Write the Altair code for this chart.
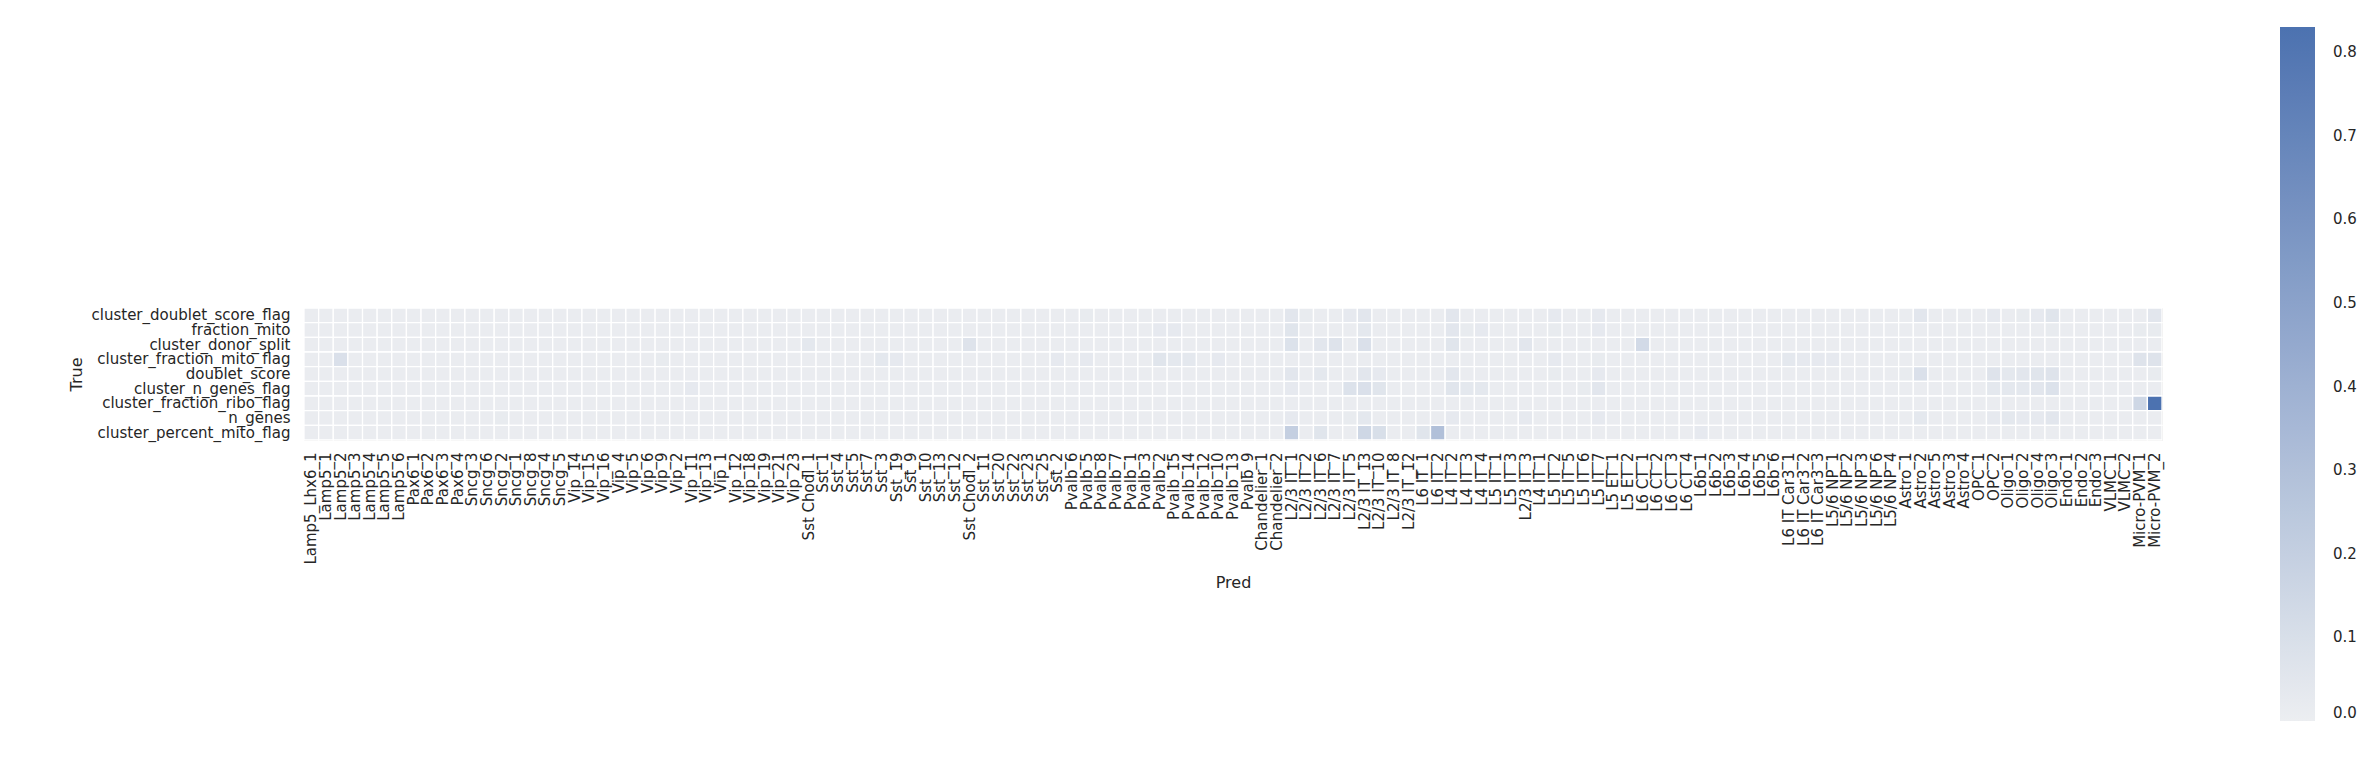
import altair as alt
import pandas as pd

true_labels = [
    "cluster_doublet_score_flag", "fraction_mito", "cluster_donor_split",
    "cluster_fraction_mito_flag", "doublet_score", "cluster_n_genes_flag",
    "cluster_fraction_ribo_flag", "n_genes", "cluster_percent_mito_flag",
]

pred_labels = [
    "Lamp5_Lhx6_1", "Lamp5_1", "Lamp5_2", "Lamp5_3", "Lamp5_4", "Lamp5_5", "Lamp5_6",
    "Pax6_1", "Pax6_2", "Pax6_3", "Pax6_4",
    "Sncg_3", "Sncg_6", "Sncg_2", "Sncg_1", "Sncg_8", "Sncg_4", "Sncg_5",
    "Vip_14", "Vip_15", "Vip_16", "Vip_4", "Vip_5", "Vip_6", "Vip_9", "Vip_2", "Vip_11",
    "Vip_13", "Vip_1", "Vip_12", "Vip_18", "Vip_19", "Vip_21", "Vip_23",
    "Sst Chodl_1", "Sst_1", "Sst_4", "Sst_5", "Sst_7", "Sst_3", "Sst_19", "Sst_9", "Sst_10",
    "Sst_13", "Sst_12", "Sst Chodl_2", "Sst_11", "Sst_20", "Sst_22", "Sst_23", "Sst_25", "Sst_2",
    "Pvalb_6", "Pvalb_5", "Pvalb_8", "Pvalb_7", "Pvalb_1", "Pvalb_3", "Pvalb_2", "Pvalb_15",
    "Pvalb_14", "Pvalb_12", "Pvalb_10", "Pvalb_13", "Pvalb_9",
    "Chandelier_1", "Chandelier_2",
    "L2/3 IT_1", "L2/3 IT_2", "L2/3 IT_6", "L2/3 IT_7", "L2/3 IT_5", "L2/3 IT_13",
    "L2/3 IT_10", "L2/3 IT_8", "L2/3 IT_12",
    "L6 IT_1", "L6 IT_2", "L4 IT_2", "L4 IT_3", "L4 IT_4", "L5 IT_1", "L5 IT_3",
    "L2/3 IT_3", "L4 IT_1", "L5 IT_2", "L5 IT_5", "L5 IT_6", "L5 IT_7",
    "L5 ET_1", "L5 ET_2", "L6 CT_1", "L6 CT_2", "L6 CT_3", "L6 CT_4",
    "L6b_1", "L6b_2", "L6b_3", "L6b_4", "L6b_5", "L6b_6",
    "L6 IT Car3_1", "L6 IT Car3_2", "L6 IT Car3_3",
    "L5/6 NP_1", "L5/6 NP_2", "L5/6 NP_3", "L5/6 NP_6", "L5/6 NP_4",
    "Astro_1", "Astro_2", "Astro_5", "Astro_3", "Astro_4",
    "OPC_1", "OPC_2", "Oligo_1", "Oligo_2", "Oligo_4", "Oligo_3",
    "Endo_1", "Endo_2", "Endo_3", "VLMC_1", "VLMC_2", "Micro-PVM_1", "Micro-PVM_2",
]

# value read for the pale background cells
background_value = 0.01

# cells that stand out from the background, per row
row_doublet_flag = {"Pvalb_5": 0.02, "L2/3 IT_1": 0.05, "L2/3 IT_2": 0.02, "L2/3 IT_5": 0.03,
                    "L2/3 IT_13": 0.05, "L4 IT_2": 0.05, "L5 IT_2": 0.03, "L5 IT_7": 0.03,
                    "Astro_2": 0.05, "OPC_2": 0.03, "Oligo_2": 0.02, "Oligo_4": 0.03,
                    "Oligo_3": 0.06, "Micro-PVM_2": 0.05}
row_fraction_mito = {"Pvalb_2": 0.03, "Pvalb_15": 0.03, "L2/3 IT_1": 0.06, "L2/3 IT_13": 0.04,
                     "L4 IT_2": 0.05, "L4 IT_3": 0.02, "L4 IT_4": 0.03, "L5 IT_2": 0.02,
                     "L5 IT_7": 0.03, "Oligo_3": 0.02, "Micro-PVM_1": 0.02, "Micro-PVM_2": 0.02}
row_donor_split = {"Sst Chodl_1": 0.04, "Sst Chodl_2": 0.07, "L2/3 IT_1": 0.08, "L2/3 IT_6": 0.05,
                   "L2/3 IT_7": 0.07, "L2/3 IT_13": 0.09, "L4 IT_2": 0.06, "L2/3 IT_3": 0.05,
                   "L6 CT_1": 0.13}
row_fraction_mito_flag = {"Lamp5_2": 0.09, "Vip_9": 0.02, "Sst_3": 0.04, "Sst_19": 0.03,
                          "Sst_2": 0.03, "Pvalb_5": 0.03, "Pvalb_2": 0.06, "Pvalb_15": 0.04,
                          "Pvalb_14": 0.04, "Pvalb_10": 0.03, "L5 IT_2": 0.03, "L5 IT_7": 0.02,
                          "L6 IT Car3_1": 0.04, "L6 IT Car3_2": 0.03, "L6 IT Car3_3": 0.03,
                          "L5/6 NP_1": 0.03, "Micro-PVM_1": 0.07, "Micro-PVM_2": 0.07}
row_doublet_score = {"L2/3 IT_1": 0.05, "L2/3 IT_6": 0.04, "L2/3 IT_13": 0.05, "L2/3 IT_10": 0.03,
                     "L4 IT_2": 0.05, "L5 IT_2": 0.02, "L5 IT_7": 0.03, "Astro_1": 0.02,
                     "Astro_2": 0.09, "OPC_2": 0.07, "Oligo_1": 0.04, "Oligo_2": 0.05,
                     "Oligo_4": 0.06, "Oligo_3": 0.07, "Micro-PVM_2": 0.02}
row_n_genes_flag = {"Vip_11": 0.03, "L2/3 IT_1": 0.03, "L2/3 IT_5": 0.08, "L2/3 IT_13": 0.09,
                    "L2/3 IT_10": 0.06, "L4 IT_2": 0.06, "L4 IT_3": 0.04, "L4 IT_4": 0.04,
                    "L5 IT_6": 0.02, "L5 IT_7": 0.05, "OPC_2": 0.04, "Oligo_1": 0.04,
                    "Oligo_2": 0.04, "Oligo_4": 0.05, "Oligo_3": 0.08}
row_fraction_ribo_flag = {"Micro-PVM_1": 0.15, "Micro-PVM_2": 0.83}
row_n_genes = {"Sncg_2": 0.02, "L2/3 IT_1": 0.03, "L2/3 IT_5": 0.02, "L2/3 IT_13": 0.04,
               "L4 IT_2": 0.03, "L2/3 IT_3": 0.03, "L5 IT_7": 0.03, "Astro_2": 0.04,
               "OPC_2": 0.03, "Oligo_1": 0.04, "Oligo_2": 0.03, "Oligo_4": 0.03, "Oligo_3": 0.05}
row_percent_mito_flag = {"L2/3 IT_1": 0.20, "L2/3 IT_6": 0.06, "L2/3 IT_13": 0.15,
                         "L2/3 IT_10": 0.10, "L6 IT_1": 0.06, "L6 IT_2": 0.30, "L6b_1": 0.03}

row_values = [row_doublet_flag, row_fraction_mito, row_donor_split, row_fraction_mito_flag,
              row_doublet_score, row_n_genes_flag, row_fraction_ribo_flag, row_n_genes,
              row_percent_mito_flag]

records = []
for t, vals in zip(true_labels, row_values):
    for p in pred_labels:
        records.append({"True": t, "Pred": p, "value": vals.get(p, background_value)})
df = pd.DataFrame(records)

FONT = "DejaVu Sans"
TXT = "#262626"
FS = 15

chart = alt.Chart(df).mark_rect(stroke="white", strokeWidth=1.3).encode(
    x=alt.X("Pred:N", sort=pred_labels, title="Pred",
            axis=alt.Axis(labelAngle=-90, ticks=False, domain=False, labelPadding=12,
                          labelFontSize=FS, labelFont=FONT, labelColor=TXT, labelLimit=0,
                          titleFontSize=16, titleFont=FONT, titleColor=TXT,
                          titleFontWeight="normal", titlePadding=10, labelOverlap=False)),
    y=alt.Y("True:N", sort=true_labels, title="True",
            axis=alt.Axis(ticks=False, domain=False, labelPadding=14,
                          labelFontSize=FS, labelFont=FONT, labelColor=TXT, labelLimit=0,
                          titleFontSize=16, titleFont=FONT, titleColor=TXT,
                          titleFontWeight="normal", titlePadding=20, labelOverlap=False)),
    color=alt.Color("value:Q",
                    scale=alt.Scale(domain=[0, 0.83], range=["#eceef1", "#4c72b0"]),
                    legend=alt.Legend(title=None, orient="none", legendX=1976, legendY=-281,
                                      direction="vertical", gradientLength=694,
                                      gradientThickness=35, gradientStrokeWidth=0,
                                      values=[0, 0.1, 0.2, 0.3, 0.4, 0.5, 0.6, 0.7, 0.8],
                                      labelFontSize=FS, labelFont=FONT, labelColor=TXT,
                                      labelOffset=18, format=".1f")),
).properties(
    width=1858,
    height=132,
    autosize=alt.AutoSizeParams(type="none"),
    padding={"left": 296, "top": 300, "right": 210, "bottom": 320},
).configure_view(stroke=None).configure(background="white")

chart.save("out.html", embed_options={"renderer": "svg", "actions": False})
